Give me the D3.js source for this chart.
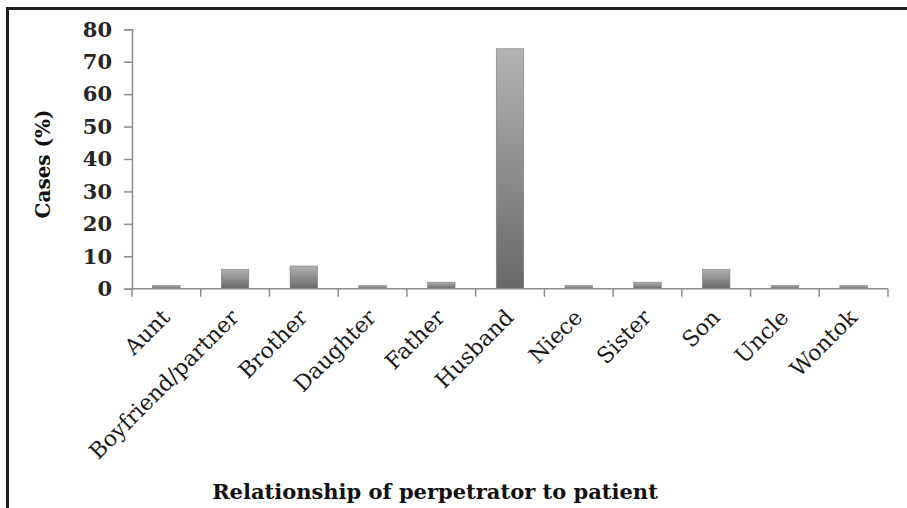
<!DOCTYPE html>
<html>
<head>
<meta charset="utf-8">
<script src="https://cdn.jsdelivr.net/npm/d3@7"></script>
<style>
html,body{margin:0;padding:0;background:#fff;}
svg{display:block;}
</style>
</head>
<body>
<script>
const categories = ["Aunt","Boyfriend/partner","Brother","Daughter","Father","Husband","Niece","Sister","Son","Uncle","Wontok"];
const values = [1, 6, 7, 1, 2, 74, 1, 2, 6, 1, 1];
const yTicks = [0,10,20,30,40,50,60,70,80];
const yTitle = "Cases (%)";
const xTitle = "Relationship of perpetrator to patient";

const W = 907, H = 508;
const svg = d3.select("body").append("svg").attr("width", W).attr("height", H);

// frame lines
svg.append("line").attr("x1",6).attr("x2",W).attr("y1",8.5).attr("y2",8.5).attr("stroke","#1e1e1e").attr("stroke-width",3);
svg.append("line").attr("x1",7.5).attr("x2",7.5).attr("y1",7).attr("y2",H).attr("stroke","#1e1e1e").attr("stroke-width",3);

const defs = svg.append("defs");
const grad = defs.append("linearGradient").attr("id","barGrad").attr("x1",0).attr("x2",0).attr("y1",0).attr("y2",1);
grad.append("stop").attr("offset","0%").attr("stop-color","#b3b3b3");
grad.append("stop").attr("offset","100%").attr("stop-color","#686868");

const x0 = 132, x1 = 888;
const x = d3.scaleBand().domain(categories).range([x0, x1]).paddingInner(0.6).paddingOuter(0.3);
const y = d3.scaleLinear().domain([0, 80]).range([288.7, 29.3]);

const font = "'DejaVu Serif', serif";

// bars
svg.append("g").selectAll("rect").data(values).join("rect")
  .attr("x", (d,i) => x(categories[i]))
  .attr("width", x.bandwidth())
  .attr("y", d => y(d))
  .attr("height", d => y(0) - y(d))
  .attr("fill", "url(#barGrad)")
  .attr("stroke", "#7a7a7a")
  .attr("stroke-width", 0.6);

// y axis
const yAxis = svg.append("g").attr("transform", `translate(${x0},0)`)
  .call(d3.axisLeft(y).tickValues(yTicks).tickSize(8).tickPadding(12).tickFormat(d3.format("d")));
yAxis.select(".domain").attr("stroke","#8c8c8c").attr("stroke-width",1.5);
yAxis.selectAll(".tick line").attr("stroke","#8c8c8c").attr("stroke-width",1.5);
yAxis.selectAll(".tick text").attr("font-family", font).attr("font-size", 21).attr("font-weight","bold").attr("fill","#262626");

// x axis
const xAxisG = svg.append("g");
xAxisG.append("line").attr("x1", x0).attr("x2", x1).attr("y1", y(0)).attr("y2", y(0)).attr("stroke","#8c8c8c").attr("stroke-width",1.5);
const step = (x1 - x0) / categories.length;
const bounds = d3.range(categories.length + 1).map(i => x0 + i * step);
xAxisG.selectAll("line.tk").data(bounds).join("line").attr("class","tk")
  .attr("x1", d => d).attr("x2", d => d).attr("y1", y(0)).attr("y2", y(0) + 8)
  .attr("stroke","#8c8c8c").attr("stroke-width",1.5);

xAxisG.selectAll("text.lbl").data(categories).join("text").attr("class","lbl")
  .attr("transform", d => `translate(${x(d) + x.bandwidth()/2 + 5},${y(0) + 30}) rotate(-45)`)
  .attr("text-anchor","end")
  .attr("font-family", font).attr("font-size", 22).attr("fill","#1a1a1a")
  .text(d => d);

// titles
svg.append("text").attr("transform", "translate(50,164) rotate(-90)")
  .attr("text-anchor","middle").attr("font-family", font).attr("font-weight","bold").attr("font-size", 20).attr("fill","#111")
  .text(yTitle);
svg.append("text").attr("x", 435).attr("y", 499)
  .attr("text-anchor","middle").attr("font-family", font).attr("font-weight","bold").attr("font-size", 21).attr("fill","#111")
  .text(xTitle);
</script>
</body>
</html>
